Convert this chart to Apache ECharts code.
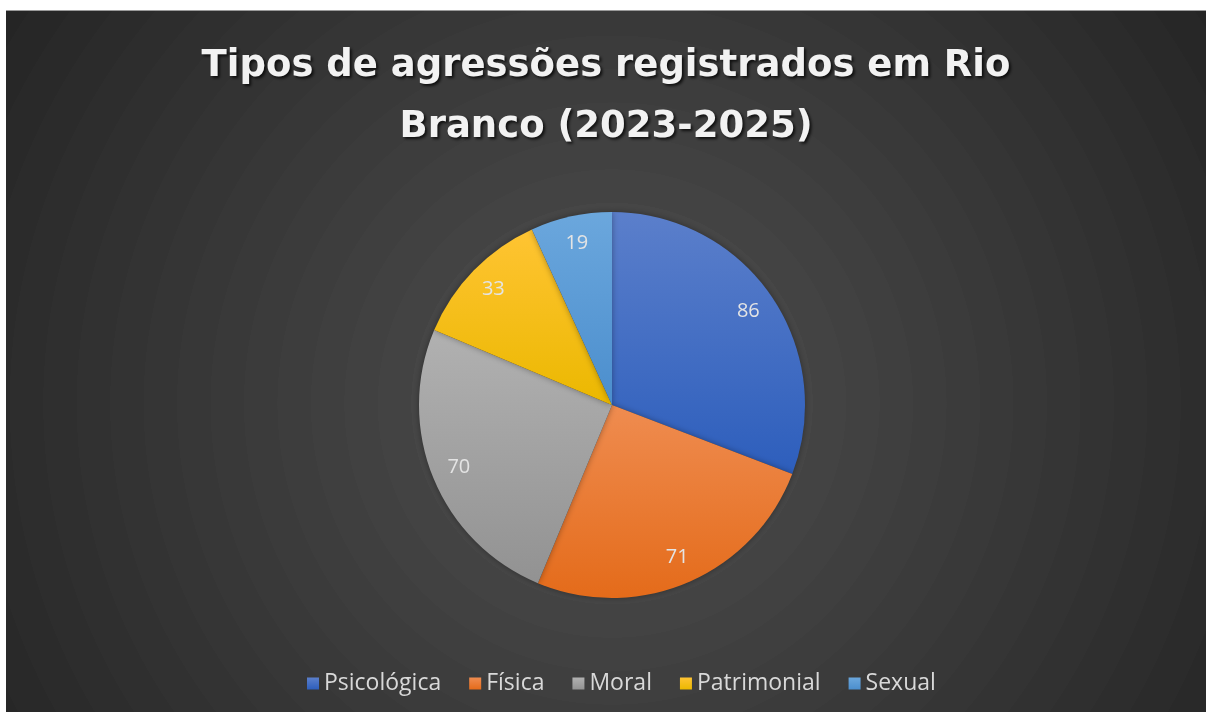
<!DOCTYPE html>
<html>
<head>
<meta charset="utf-8">
<script src="https://cdn.jsdelivr.net/npm/echarts@6/dist/echarts.min.js"></script>
<style>
  html, body { margin: 0; padding: 0; background: #fff; }
  #chart {
    position: absolute; left: 6px; top: 10px;
    width: 1200px; height: 701px;
    border-top: 1px solid #9a9a9a;
  }
</style>
</head>
<body>
<div id="chart"></div>
<script>
// tipos de agressões
var categories = ['Psicológica', 'Física', 'Moral', 'Patrimonial', 'Sexual'];
var values = [86, 71, 70, 33, 19];

// cores (topo / base do gradiente de cada fatia)
var topColors = ['#5b7fcb', '#ef8c50', '#b1b1b1', '#ffc433', '#6ba7dd'];
var baseColors = ['#2d5ebc', '#e46b1a', '#929292', '#ebb800', '#4b8ecd'];
var legendColors = ['#4472c4', '#ed7d31', '#a5a5a5', '#ffc000', '#5b9bd5'];

var myChart = echarts.init(document.getElementById('chart'));

// fundo com anéis (degradê radial em degraus)
var stops = [];
var nSteps = 22;
for (var i = 0; i < nSteps; i++) {
    var t = i / (nSteps - 1);
    var c = Math.round(0x52 - (0x52 - 0x25) * Math.pow(t, 0.9));
    var hex = '#' + c.toString(16).repeat(3);
    stops.push({ offset: i / nSteps, color: hex });
    stops.push({ offset: (i + 1) / nSteps - 0.0001, color: hex });
}

var pieData = [];
var labelData = [];
for (let i = 0; i < categories.length; i++) {
    pieData.push({
        name: categories[i],
        value: values[i],
        itemStyle: {
            color: new echarts.graphic.LinearGradient(0, 0, 0, 1, [
                { offset: 0, color: topColors[i] },
                { offset: 1, color: baseColors[i] }
            ])
        }
    });
    labelData.push({ name: categories[i], value: values[i] });
}

var option = {
    backgroundColor: new echarts.graphic.RadialGradient(0.505, 0.56, 1.05, stops),
    animation: false,
    color: legendColors,
    title: {
        text: 'Tipos de agressões registrados em Rio\nBranco (2023-2025)',
        left: 'center',
        top: 20,
        textStyle: {
            fontFamily: 'DejaVu Sans',
            fontWeight: 'bold',
            fontSize: 37,
            lineHeight: 61,
            color: '#f2f2f2',
            textShadowColor: 'rgba(0,0,0,0.75)',
            textShadowBlur: 3,
            textShadowOffsetX: 2,
            textShadowOffsetY: 2
        }
    },
    legend: {
        data: categories,
        bottom: 12,
        left: 296,
        icon: 'rect',
        itemWidth: 12,
        itemHeight: 12,
        itemGap: 28,
        textStyle: {
            fontFamily: 'Open Sans',
            fontSize: 23,
            color: '#d9d9d9'
        }
    },
    series: [
        {
            type: 'pie',
            center: [606, 394],
            radius: 193,
            startAngle: 90,
            clockwise: true,
            label: { show: false },
            labelLine: { show: false },
            itemStyle: {
                borderWidth: 0,
                shadowBlur: 6,
                shadowColor: 'rgba(0,0,0,0.35)'
            },
            data: pieData
        },
        {
            // anel invisível só para posicionar os rótulos perto da borda
            type: 'pie',
            center: [606, 394],
            radius: [132, 193],
            startAngle: 90,
            clockwise: true,
            silent: true,
            itemStyle: { color: 'rgba(0,0,0,0)' },
            label: {
                show: true,
                position: 'inside',
                formatter: '{c}',
                fontFamily: 'Open Sans',
                fontSize: 20,
                color: '#e4e4e4'
            },
            labelLine: { show: false },
            data: labelData
        }
    ]
};
myChart.setOption(option);
</script>
</body>
</html>
